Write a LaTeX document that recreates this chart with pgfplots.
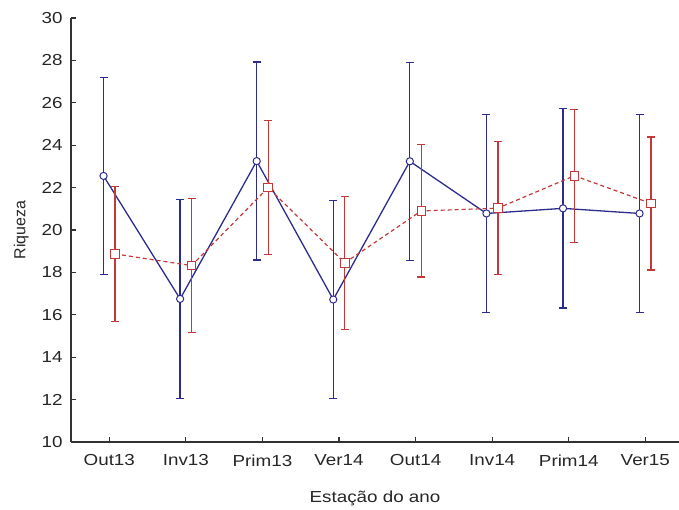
\documentclass[border=0pt]{standalone}
\usepackage{fontspec}
\setmainfont{Liberation Sans}
\newfontfamily\widesans{Liberation Sans}[FakeStretch=1.18]
\usepackage{pgfplots}
\pgfplotsset{compat=1.18}
\definecolor{cblue}{RGB}{44,44,140}
\definecolor{cred}{RGB}{196,56,56}
\definecolor{caxis}{RGB}{50,50,50}
\begin{document}
\begin{tikzpicture}[x=1bp,y=1bp]
\path[use as bounding box] (0,0) rectangle (679,510);
\begin{axis}[
  at={(71bp,68bp)}, anchor=south west,
  scale only axis, width=608bp, height=424bp,
  xmin=-0.5, xmax=7.44, ymin=10, ymax=30,
  axis x line=bottom, axis y line=left,
  axis line style={-, caxis, line width=1.3pt},
  xtick={0,...,7},
  xticklabels={Out13,Inv13,Prim13,Ver14,Out14,Inv14,Prim14,Ver15},
  ytick={10,12,...,30},
  tick align=inside, major tick length=5bp,
  tick style={caxis, line width=1.1pt},
  /pgf/number format/assume math mode=true,
  tick label style={font=\widesans\fontsize{16}{18}\selectfont, text=black!85},
  xticklabel style={yshift=-9bp},
  yticklabel style={xshift=-5bp},
  xlabel={Estação do ano},
  xlabel style={font=\widesans\fontsize{16}{18}\selectfont, text=black!85, yshift=-18bp},
  ylabel={Riqueza},
  ylabel style={font=\fontsize{16}{18}\selectfont, text=black!85, yshift=6bp},
  clip=false,
]
\addplot[cblue, line width=1.3pt, mark=*, mark size=3.6bp,
  mark options={solid, fill=white, draw=cblue, line width=1pt},
  error bars/.cd, y dir=both, y explicit,
  error bar style={cblue, line width=1.3pt},
  error mark options={cblue, line width=1.2pt, mark size=4bp, rotate=90}]
coordinates {
(-0.075,22.55) +- (0,4.65)
(0.925,16.75) +- (0,4.7)
(1.925,23.25) +- (0,4.67)
(2.925,16.72) +- (0,4.68)
(3.925,23.24) +- (0,4.67)
(4.925,20.78) +- (0,4.67)
(5.925,21.02) +- (0,4.7)
(6.925,20.78) +- (0,4.67)
};
\addplot[cred, line width=1.2pt, dash pattern=on 4bp off 3bp, mark=square*, mark size=4.3bp,
  mark options={solid, fill=white, draw=cred, line width=1pt},
  error bars/.cd, y dir=both, y explicit,
  error bar style={cred, line width=1.3pt, solid},
  error mark options={cred, line width=1.2pt, mark size=4bp, rotate=90, solid}]
coordinates {
(0.075,18.87) +- (0,3.17)
(1.075,18.32) +- (0,3.15)
(2.075,22.0) +- (0,3.15)
(3.075,18.45) +- (0,3.13)
(4.075,20.9) +- (0,3.12)
(5.075,21.03) +- (0,3.14)
(6.075,22.56) +- (0,3.14)
(7.075,21.25) +- (0,3.14)
};
\end{axis}
\end{tikzpicture}
\end{document}
